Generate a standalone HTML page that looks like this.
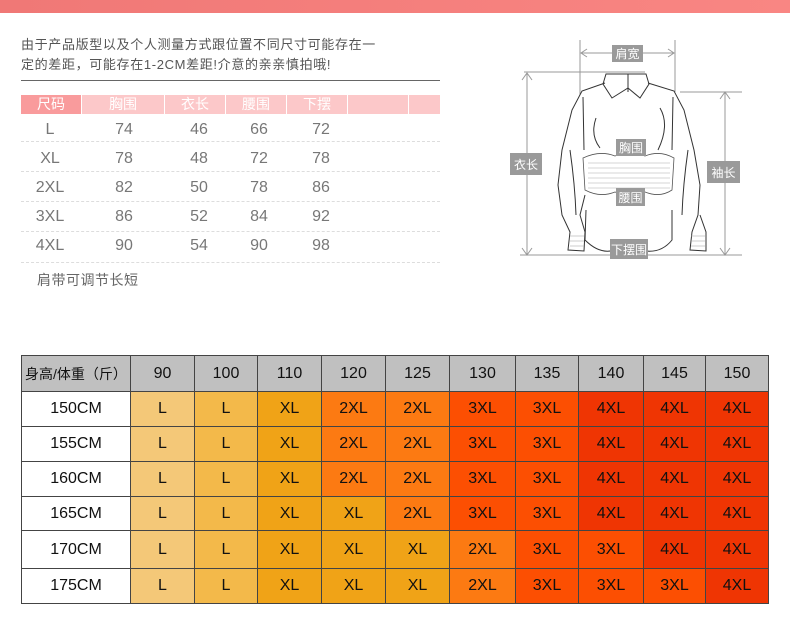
<!DOCTYPE html>
<html><head><meta charset="utf-8"><style>
*{margin:0;padding:0;box-sizing:border-box}
body{width:790px;height:632px;background:#fff;position:relative;overflow:hidden;font-family:"Liberation Sans","Noto Sans CJK SC",sans-serif}
.a{position:absolute}
.t{position:absolute;color:#555;font-size:13px;white-space:nowrap;letter-spacing:0.65px}
.h{position:absolute;top:95px;height:19px;color:#fff;font-size:14px;text-align:center;line-height:19px;background:#fcc8c9}
.c{position:absolute;color:#777;font-size:16px;text-align:center;width:60px;font-family:"Liberation Sans Narrow","Liberation Sans",sans-serif}
.dl{position:absolute;left:21px;width:419px;border-top:1px dashed #ddd}
table{position:absolute;left:21px;top:355px;border-collapse:collapse;font-family:"Liberation Sans Narrow","Liberation Sans",sans-serif}
td{border:1px solid #444;text-align:center;font-size:16px;color:#111;padding:0}
</style></head><body>
<div class="a" style="left:0;top:0;width:790px;height:13px;background:linear-gradient(90deg,#f07876,#f98683)"></div>
<div class="t" style="left:21px;top:34px">由于产品版型以及个人测量方式跟位置不同尺寸可能存在一</div>
<div class="t" style="left:21px;top:54px">定的差距，可能存在1-2CM差距!介意的亲亲慎拍哦!</div>
<div class="a" style="left:21px;top:80px;width:419px;height:1px;background:#666"></div>
<div class="h" style="left:21px;width:60px;background:#f99b9c">尺码</div>
<div class="h" style="left:82px;width:82px">胸围</div>
<div class="h" style="left:165px;width:60px">衣长</div>
<div class="h" style="left:226px;width:60px">腰围</div>
<div class="h" style="left:287px;width:60px">下摆</div>
<div class="h" style="left:348px;width:60px"></div>
<div class="h" style="left:409px;width:31px"></div>
<div class="c" style="left:20px;top:121px">L</div><div class="c" style="left:94px;top:121px">74</div><div class="c" style="left:169px;top:121px">46</div><div class="c" style="left:229px;top:121px">66</div><div class="c" style="left:291px;top:121px">72</div>
<div class="c" style="left:20px;top:150px">XL</div><div class="c" style="left:94px;top:150px">78</div><div class="c" style="left:169px;top:150px">48</div><div class="c" style="left:229px;top:150px">72</div><div class="c" style="left:291px;top:150px">78</div>
<div class="c" style="left:20px;top:179px">2XL</div><div class="c" style="left:94px;top:179px">82</div><div class="c" style="left:169px;top:179px">50</div><div class="c" style="left:229px;top:179px">78</div><div class="c" style="left:291px;top:179px">86</div>
<div class="c" style="left:20px;top:208px">3XL</div><div class="c" style="left:94px;top:208px">86</div><div class="c" style="left:169px;top:208px">52</div><div class="c" style="left:229px;top:208px">84</div><div class="c" style="left:291px;top:208px">92</div>
<div class="c" style="left:20px;top:237px">4XL</div><div class="c" style="left:94px;top:237px">90</div><div class="c" style="left:169px;top:237px">54</div><div class="c" style="left:229px;top:237px">90</div><div class="c" style="left:291px;top:237px">98</div>
<div class="dl" style="top:141px"></div><div class="dl" style="top:171px"></div><div class="dl" style="top:201px"></div><div class="dl" style="top:231px"></div><div class="dl" style="top:262px"></div>
<div class="t" style="left:37px;top:270px;font-size:14px;color:#666;letter-spacing:0.5px">肩带可调节长短</div>

<svg class="a" style="left:500px;top:20px" width="260" height="250" viewBox="500 20 260 250">
<g stroke="#999" stroke-width="1" fill="none">
<line x1="580" y1="40" x2="580" y2="95"/><line x1="675" y1="40" x2="675" y2="92"/>
<line x1="581" y1="53" x2="674" y2="53"/>
<line x1="524" y1="72" x2="645" y2="72"/><line x1="527" y1="73" x2="527" y2="255"/>
<line x1="680" y1="92" x2="742" y2="92"/><line x1="725" y1="93" x2="725" y2="255"/>
<line x1="520" y1="255" x2="742" y2="255"/>
<path d="M522 80 L527 73 L532 80 M522 248 L527 255 L532 248 M720 99 L725 92 L730 99 M720 248 L725 255 L730 248 M587 49 L581 53 L587 57 M668 49 L674 53 L668 57"/>
</g>
<g stroke="#333" stroke-width="1" fill="none">
<path d="M606 74 L603 84 L612 98 L628 88 L640 98 L649 84 L646 74 Z"/>
<line x1="628" y1="74" x2="628" y2="92"/>
<path d="M605 83 L582 91 L572 110 L562 150 L558 185 L562 215 L570 232 L568 250 L584 251 L585 232 L580 215 L585 195"/>
<path d="M648 83 L674 91 L684 110 L694 150 L700 185 L698 215 L692 232 L690 250 L706 251 L706 232 L700 215"/>
<path d="M583 97 L584 150 M673 97 L672 150"/>
<path d="M586 210 L585 240 Q600 255 615 250 L640 250 Q660 255 672 240 L672 210"/>
<path d="M596 118 Q590 135 600 148 M660 108 Q670 125 658 150 M570 150 Q575 185 576 215 M688 150 Q683 185 682 215"/>
</g>
<g stroke="#555" stroke-width="0.8" fill="#fff">
<path d="M583 158 Q600 150 615 156 Q630 150 645 156 Q660 150 674 158 L672 190 Q660 198 645 192 Q630 198 615 192 Q600 198 585 190 Z"/>
</g>
<g stroke="#aaa" stroke-width="0.6">
<line x1="588" y1="163" x2="670" y2="163"/><line x1="588" y1="168" x2="670" y2="168"/><line x1="588" y1="173" x2="670" y2="173"/><line x1="588" y1="178" x2="670" y2="178"/><line x1="588" y1="183" x2="670" y2="183"/><line x1="588" y1="188" x2="670" y2="188"/>
<line x1="570" y1="236" x2="584" y2="236"/><line x1="570" y1="241" x2="584" y2="241"/><line x1="570" y1="246" x2="584" y2="246"/>
<line x1="691" y1="236" x2="705" y2="236"/><line x1="691" y1="241" x2="705" y2="241"/><line x1="691" y1="246" x2="705" y2="246"/>
</g>
<g fill="#9a9a9a"><rect x="612" y="45" width="31" height="17"/><rect x="510" y="153" width="32" height="22"/><rect x="707" y="161" width="33" height="22"/><rect x="616" y="139" width="30" height="17"/><rect x="616" y="188" width="29" height="18"/><rect x="610" y="239" width="38" height="20"/></g>
<g fill="#fff" font-size="12" font-family="Liberation Sans,Noto Sans CJK SC,sans-serif" text-anchor="middle">
<text x="627.5" y="58">肩宽</text><text x="526" y="169">衣长</text><text x="723.5" y="177">袖长</text><text x="631" y="152">胸围</text><text x="630.5" y="202">腰围</text><text x="629" y="254">下摆围</text></g>
</svg>

<table>
<tr style="height:36px;background:#c0c0c0"><td style="width:109px;font-size:14px;font-family:'Liberation Sans','Noto Sans CJK SC',sans-serif">身高/体重（斤）</td><td style="width:64px">90</td><td style="width:63px">100</td><td style="width:64px">110</td><td style="width:64px">120</td><td style="width:64px">125</td><td style="width:66px">130</td><td style="width:63px">135</td><td style="width:65px">140</td><td style="width:62px">145</td><td style="width:63px">150</td></tr>
<tr style="height:35px"><td>150CM</td><td style="background:#f4c878">L</td><td style="background:#f3b94a">L</td><td style="background:#f0a317">XL</td><td style="background:#fc7a12">2XL</td><td style="background:#fc7a12">2XL</td><td style="background:#fc4f02">3XL</td><td style="background:#fc4f02">3XL</td><td style="background:#ef3503">4XL</td><td style="background:#ef3503">4XL</td><td style="background:#ef3503">4XL</td></tr>
<tr style="height:35px"><td>155CM</td><td style="background:#f4c878">L</td><td style="background:#f3b94a">L</td><td style="background:#f0a317">XL</td><td style="background:#fc7a12">2XL</td><td style="background:#fc7a12">2XL</td><td style="background:#fc4f02">3XL</td><td style="background:#fc4f02">3XL</td><td style="background:#ef3503">4XL</td><td style="background:#ef3503">4XL</td><td style="background:#ef3503">4XL</td></tr>
<tr style="height:35px"><td>160CM</td><td style="background:#f4c878">L</td><td style="background:#f3b94a">L</td><td style="background:#f0a317">XL</td><td style="background:#fc7a12">2XL</td><td style="background:#fc7a12">2XL</td><td style="background:#fc4f02">3XL</td><td style="background:#fc4f02">3XL</td><td style="background:#ef3503">4XL</td><td style="background:#ef3503">4XL</td><td style="background:#ef3503">4XL</td></tr>
<tr style="height:34px"><td>165CM</td><td style="background:#f4c878">L</td><td style="background:#f3b94a">L</td><td style="background:#f0a317">XL</td><td style="background:#f0a317">XL</td><td style="background:#fc7a12">2XL</td><td style="background:#fc4f02">3XL</td><td style="background:#fc4f02">3XL</td><td style="background:#ef3503">4XL</td><td style="background:#ef3503">4XL</td><td style="background:#ef3503">4XL</td></tr>
<tr style="height:38px"><td>170CM</td><td style="background:#f4c878">L</td><td style="background:#f3b94a">L</td><td style="background:#f0a317">XL</td><td style="background:#f0a317">XL</td><td style="background:#f0a317">XL</td><td style="background:#fc7a12">2XL</td><td style="background:#fc4f02">3XL</td><td style="background:#fc4f02">3XL</td><td style="background:#ef3503">4XL</td><td style="background:#ef3503">4XL</td></tr>
<tr style="height:35px"><td>175CM</td><td style="background:#f4c878">L</td><td style="background:#f3b94a">L</td><td style="background:#f0a317">XL</td><td style="background:#f0a317">XL</td><td style="background:#f0a317">XL</td><td style="background:#fc7a12">2XL</td><td style="background:#fc4f02">3XL</td><td style="background:#fc4f02">3XL</td><td style="background:#fc4f02">3XL</td><td style="background:#ef3503">4XL</td></tr>
</table>
</body></html>
